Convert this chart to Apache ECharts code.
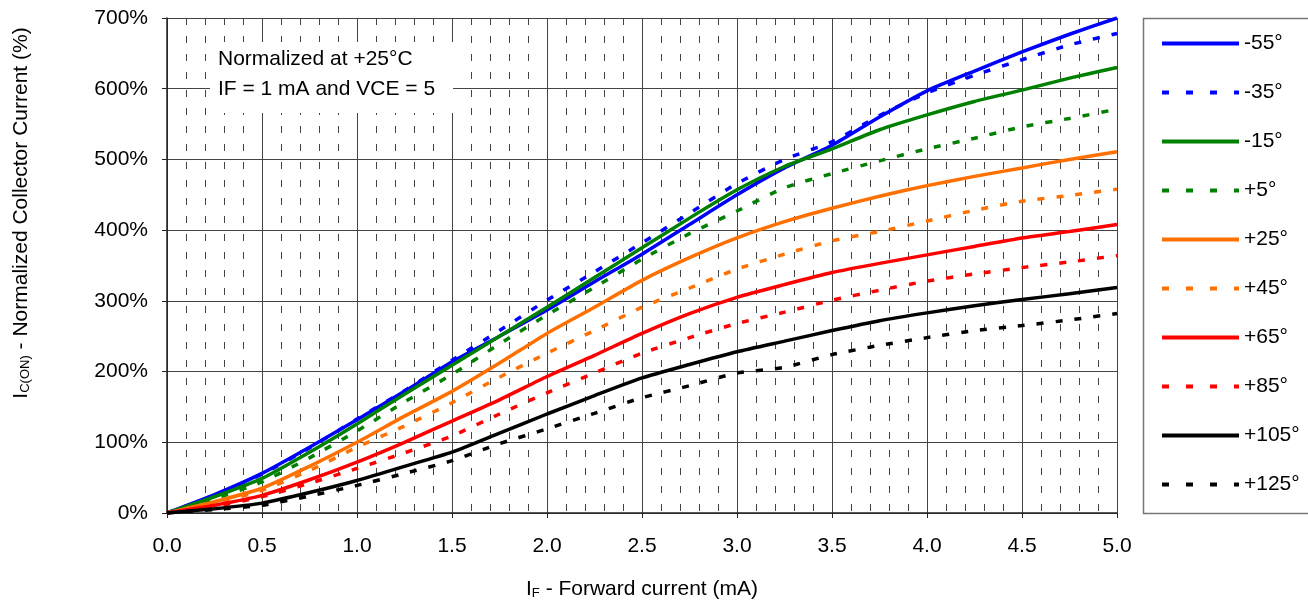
<!DOCTYPE html>
<html><head><meta charset="utf-8">
<script src="https://cdn.jsdelivr.net/npm/echarts@6/dist/echarts.min.js"></script>
<style>html,body{margin:0;padding:0;background:#fff}#c{width:1308px;height:605px}</style>
</head><body><div id="c"></div>
<script>
const xValues = [0, 0.25, 0.5, 0.75, 1.0, 1.25, 1.5, 1.75, 2.0, 2.25, 2.5, 2.75, 3.0, 3.25, 3.5, 3.75, 4.0, 4.25, 4.5, 4.75, 5.0];
const xTickLabels = ['0.0','0.5','1.0','1.5','2.0','2.5','3.0','3.5','4.0','4.5','5.0'];
const yTickLabels = ['0%','100%','200%','300%','400%','500%','600%','700%'];
const seriesNames = ['-55°','-35°','-15°','+5°','+25°','+45°','+65°','+85°','+105°','+125°'];
const m55  = [0, 26, 56, 93, 132, 172, 214, 250, 287, 327, 366, 408, 450, 488, 520, 560, 597, 625, 652, 677, 700];
const m35  = [0, 25, 55, 92, 133, 173, 216, 258, 301, 341, 382, 424, 466, 500, 525, 562, 594, 619, 641, 662, 678];
const m15  = [0, 23, 49, 86, 126, 168, 209, 250, 291, 333, 375, 417, 457, 490, 515, 542, 563, 582, 598, 615, 630];
const p5   = [0, 20, 44, 78, 116, 157, 196, 239, 280, 319, 359, 395, 427, 460, 480, 498, 515, 530, 546, 558, 571];
const p25  = [0, 16, 35, 66, 100, 137, 172, 212, 254, 291, 329, 361, 389, 412, 431, 448, 463, 476, 488, 500, 511];
const p45  = [0, 14, 32, 60, 93, 123, 156, 192, 226, 258, 291, 318, 345, 366, 385, 398, 413, 428, 441, 449, 458];
const p65  = [0, 11, 25, 47, 72, 100, 130, 160, 193, 223, 254, 282, 305, 323, 340, 353, 365, 377, 389, 398, 408];
const p85  = [0, 9, 23, 42, 63, 85, 109, 140, 170, 198, 226, 248, 268, 284, 301, 315, 328, 338, 347, 355, 364];
const p105 = [0, 6, 14, 29, 46, 66, 86, 113, 140, 166, 191, 210, 228, 243, 258, 272, 283, 293, 302, 310, 319];
const p125 = [0, 5, 11, 24, 39, 56, 74, 98, 119, 141, 163, 180, 198, 206, 224, 237, 248, 258, 265, 273, 282];
const seriesValues = [m55, m35, m15, p5, p25, p45, p65, p85, p105, p125];
const colors = ['#0000FF','#0000FF','#008000','#008000','#FF7000','#FF7000','#FF0000','#FF0000','#000000','#000000'];
const dashed = [false,true,false,true,false,true,false,true,false,true];

const FONT = 'Liberation Sans';
const chart = echarts.init(document.getElementById('c'), null, {renderer:'canvas'});
const series = seriesNames.map((n,i)=>({
  name: n, type:'line', symbol:'none', smooth:0.2, z: 3,
  data: xValues.map((x,j)=>[x, seriesValues[i][j]]),
  lineStyle:{color:colors[i], width:3.5, type: dashed[i] ? [7,12] : 'solid'},
  itemStyle:{color:colors[i]}
}));
const richName = {
  i:{fontSize:21,fontFamily:FONT,color:'#000'},
  s:{fontSize:13,fontFamily:FONT,color:'#000',verticalAlign:'bottom',padding:[9,0,0,0]},
  t:{fontSize:21,fontFamily:FONT,color:'#000'}
};
chart.setOption({
  animation:false,
  backgroundColor:'#fff',
  textStyle:{fontFamily:FONT},
  grid:{left:167, right:191, top:18, bottom:87, containLabel:false},
  xAxis:{
    type:'value', min:0, max:5, interval:0.5,
    name:'{i|I}{s|F}{t| - Forward current (mA)}', nameLocation:'middle', nameGap:65,
    nameTextStyle:{rich:richName},
    axisLine:{show:true,onZero:false,lineStyle:{color:'#222',width:1.5}},
    axisTick:{show:true,length:5,lineStyle:{color:'#222'}},
    axisLabel:{fontSize:21,color:'#000',fontFamily:FONT,margin:23,formatter:(v)=>xTickLabels[Math.round(v*2)]},
    splitLine:{show:true,lineStyle:{color:'#444',width:1}},
    minorTick:{show:false,splitNumber:5},
    minorSplitLine:{show:true,lineStyle:{color:'#444',width:1,type:[7,11]}}
  },
  yAxis:{
    type:'value', min:0, max:700, interval:100,
    axisLine:{show:true,lineStyle:{color:'#222',width:1.5}},
    axisTick:{show:true,length:5,lineStyle:{color:'#222'}},
    axisLabel:{fontSize:21,color:'#000',fontFamily:FONT,margin:19,formatter:(v)=>yTickLabels[Math.round(v/100)]},
    splitLine:{show:true,lineStyle:{color:'#444',width:1}}
  },
  legend:{
    orient:'vertical', left:1155, top:28,
    itemWidth:77, itemHeight:20, itemGap:28,
    itemStyle:{color:'rgba(0,0,0,0)', opacity:0, borderWidth:0},
    textStyle:{fontSize:21,color:'#000',fontFamily:FONT,lineHeight:20},
    data:seriesNames.map((n,i)=>({name:n, lineStyle:{width:4, type: dashed[i] ? [7,17] : 'solid'}}))
  },
  graphic:[
    {type:'rect', shape:{x:1143.5,y:18.5,width:170,height:495}, style:{fill:'none',stroke:'#777',lineWidth:1.5}, z:1},
    {type:'rect', shape:{x:210,y:42,width:243,height:71}, style:{fill:'#fff'}, z:10},
    {type:'text', x:218, y:44, z:11, style:{text:'Normalized at +25°C\nIF = 1 mA and VCE = 5', font:'21px "Liberation Sans"', fill:'#000', lineHeight:30}},
    {type:'text', x:21, y:213, rotation:Math.PI/2, z:11, style:{text:'{i|I}{s|C(ON)}{t| - Normalized Collector Current (%)}', rich:richName, align:'center', verticalAlign:'middle'}}
  ],
  series: series
});
</script></body></html>
